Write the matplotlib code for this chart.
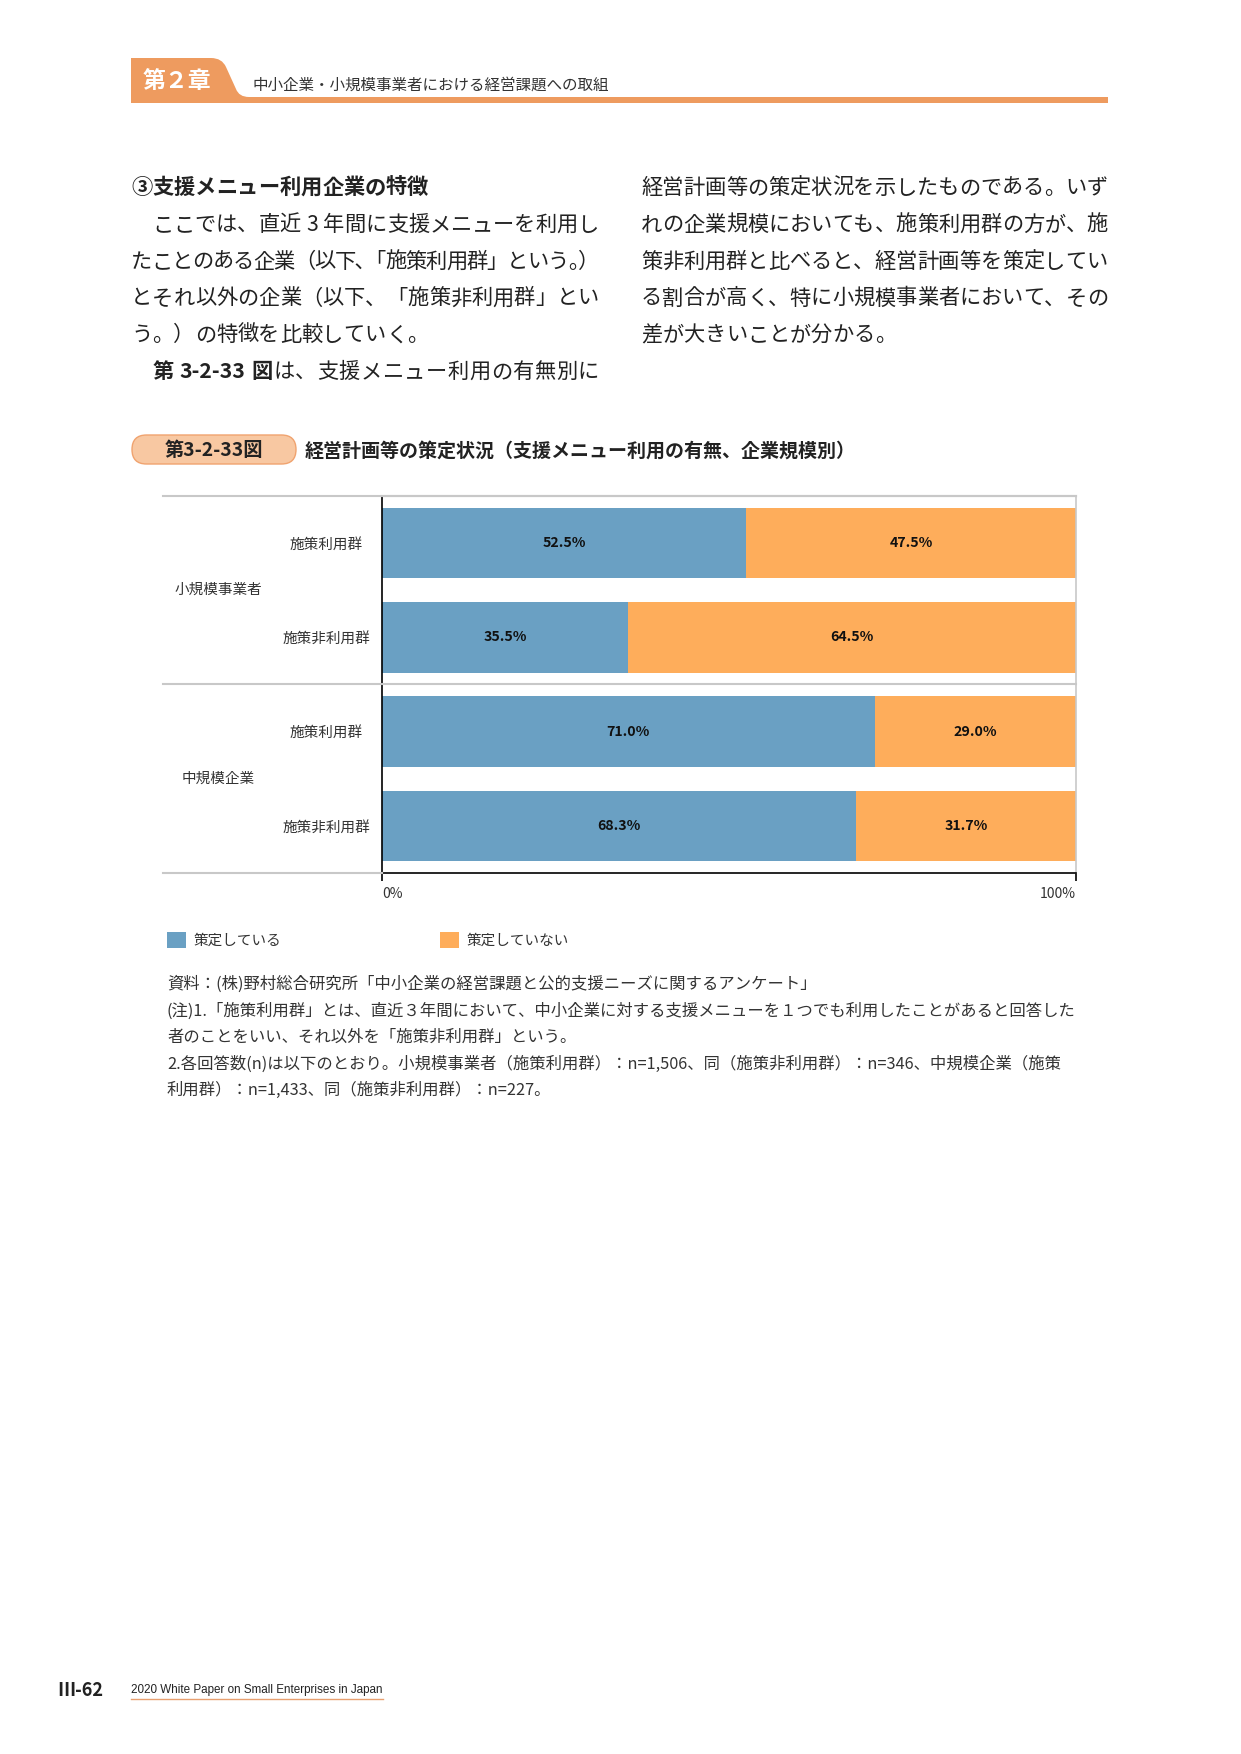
import numpy as np
import matplotlib
matplotlib.use('Agg')
import matplotlib.pyplot as plt
import matplotlib.transforms as mtransforms
from matplotlib.patches import FancyBboxPatch, PathPatch
from matplotlib.path import Path
from matplotlib.font_manager import FontProperties, findfont
from matplotlib.ft2font import FT2Font
from matplotlib.lines import Line2D

plt.rcParams['font.family'] = ['Noto Sans CJK JP', 'DejaVu Sans']

# ---------------- data ----------------
size_groups = ['小規模事業者', '中規模企業']
row_labels = ['施策利用群', '施策非利用群', '施策利用群', '施策非利用群']
planned = [52.5, 35.5, 71.0, 68.3]
not_planned = [47.5, 64.5, 29.0, 31.7]
series_names = ['策定している', '策定していない']
x_ticks = [0, 100]
x_tick_labels = ['0%', '100%']

BLUE = '#6AA0C3'
ORANGE = '#FEAD5B'
HEAD_ORANGE = '#EE9B5F'
TXT = '#222222'

W, H = 1241, 1754
fig = plt.figure(figsize=(W / 100, H / 100), dpi=100)
T = mtransforms.Affine2D().scale(1 / W, -1 / H).translate(0, 1) + fig.transFigure

# ---------------- text layout helpers ----------------
_fonts = {}


def advance(ch, bold, fs):
    em = fs * 100 / 72
    try:
        if bold not in _fonts:
            p = findfont(FontProperties(family='Noto Sans CJK JP',
                                        weight='bold' if bold else 'normal'))
            _fonts[bold] = FT2Font(p)
        f = _fonts[bold]
        f.set_size(fs, 100)
        g = f.load_char(ord(ch))
        return g.linearHoriAdvance / 65536.0
    except Exception:
        return em if ord(ch) >= 0x2000 else 0.55 * em


CLOSE = '、。」）'
OPEN = '「（'
HALF = {'、': '､', '。': '｡'}


def is_cjk(ch):
    return ord(ch) >= 0x2000


def build_units(segs, fs, compress):
    chars = []
    for text, bold in segs:
        for ch in text:
            chars.append([ch, bold])
    if compress:
        for i in range(len(chars) - 1):
            if chars[i][0] in HALF and chars[i + 1][0] in CLOSE + OPEN:
                chars[i][0] = HALF[chars[i][0]]
    units = []
    for ch, bold in chars:
        a = advance(ch, bold, fs)
        if (not is_cjk(ch)) and units and units[-1]['kind'] == 'ascii':
            units[-1]['text'] += ch
            units[-1]['adv'] += a
        else:
            units.append({'text': ch, 'adv': a, 'bold': bold,
                          'kind': 'cjk' if is_cjk(ch) else 'ascii'})
    em = fs * 100 / 72
    gaps = []
    for i in range(len(units) - 1):
        a, b = units[i], units[i + 1]
        g = 0.0
        if a['kind'] != b['kind'] and a['text'][-1] not in CLOSE + OPEN + '　' \
                and b['text'][0] not in CLOSE + OPEN + '　':
            g = 0.25 * em
        gaps.append(g)
    total = sum(u['adv'] for u in units) + sum(gaps)
    return units, gaps, total


def draw_line(x0, yc, width, segs, fs, justify, color=TXT):
    em = fs * 100 / 72
    units, gaps, total = build_units(segs, fs, False)
    if total > width + 0.5:
        units, gaps, total = build_units(segs, fs, True)
    extra = 0.0
    if justify and len(units) > 1:
        extra = (width - total) / (len(units) - 1)
    baseline = yc + 0.38 * em
    pen = x0
    for i, u in enumerate(units):
        if u['text'] != '　':
            fig.text(pen, baseline, u['text'], transform=T, ha='left', va='baseline',
                     fontsize=fs, color=color, weight='bold' if u['bold'] else 'normal')
        if i < len(gaps):
            pen += u['adv'] + gaps[i] + extra


# ---------------- page header ----------------
verts = [(131, 103), (131, 58), (211, 58), (222, 58), (226, 67), (236, 89),
         (239, 97), (249, 97), (1108, 97), (1108, 103), (131, 103)]
codes = [Path.MOVETO, Path.LINETO, Path.LINETO, Path.CURVE3, Path.CURVE3, Path.LINETO,
         Path.CURVE3, Path.CURVE3, Path.LINETO, Path.LINETO, Path.CLOSEPOLY]
fig.add_artist(PathPatch(Path(verts, codes), facecolor=HEAD_ORANGE, edgecolor='none',
                         transform=T))
fig.text(177, 81, '第２章', transform=T, ha='center', va='center', fontsize=16.5,
         weight='bold', color='white')
fig.text(252, 85, '中小企業・小規模事業者における経営課題への取組', transform=T,
         ha='left', va='center', fontsize=11.2, color='#333333')

# ---------------- body text ----------------
FS = 15.3
ly = [186 + 36.8 * i for i in range(6)]
draw_line(131, ly[0], 468, [('③支援メニュー利用企業の特徴', True)], FS, False)
draw_line(131, ly[1], 468, [('　ここでは、直近3年間に支援メニューを利用し', False)], FS, True)
draw_line(131, ly[2], 468, [('たことのある企業（以下、「施策利用群」という。）', False)], FS, True)
draw_line(131, ly[3], 468, [('とそれ以外の企業（以下、「施策非利用群」とい', False)], FS, True)
draw_line(131, ly[4], 468, [('う。）の特徴を比較していく。', False)], FS, False)
draw_line(131, ly[5], 468, [('　', False), ('第3-2-33図', True),
                            ('は、支援メニュー利用の有無別に', False)], FS, True)

draw_line(641, ly[0], 467, [('経営計画等の策定状況を示したものである。いず', False)], FS, True)
draw_line(641, ly[1], 467, [('れの企業規模においても、施策利用群の方が、施', False)], FS, True)
draw_line(641, ly[2], 467, [('策非利用群と比べると、経営計画等を策定してい', False)], FS, True)
draw_line(641, ly[3], 467, [('る割合が高く、特に小規模事業者において、その', False)], FS, True)
draw_line(641, ly[4], 467, [('差が大きいことが分かる。', False)], FS, False)

# ---------------- figure title ----------------
fig.add_artist(FancyBboxPatch((132, 435), 164, 29,
                              boxstyle='round,pad=0,rounding_size=14.5',
                              facecolor='#F8C8A2', edgecolor='#F0A36F', linewidth=1,
                              transform=T))
fig.text(214, 450, '第3-2-33図', transform=T, ha='center', va='center',
         fontsize=13.8, weight='bold', color='#222222')
fig.text(305, 451, '経営計画等の策定状況（支援メニュー利用の有無、企業規模別）',
         transform=T, ha='left', va='center', fontsize=13.7, weight='bold',
         color='#222222')

# ---------------- chart ----------------
AX_L, AX_R, AX_T, AX_B = 382, 1076, 496, 873
ax = fig.add_axes([AX_L / W, 1 - AX_B / H, (AX_R - AX_L) / W, (AX_B - AX_T) / H])
y = np.arange(len(planned))
b1 = ax.barh(y, planned, height=0.75, color=BLUE, label=series_names[0])
b2 = ax.barh(y, not_planned, left=planned, height=0.75, color=ORANGE,
             label=series_names[1])
for i in range(len(planned)):
    ax.text(planned[i] / 2, y[i], f'{planned[i]:.1f}%', ha='center', va='center',
            fontsize=10.2, weight='bold', color='#111111')
    ax.text(planned[i] + not_planned[i] / 2, y[i], f'{not_planned[i]:.1f}%',
            ha='center', va='center', fontsize=10.2, weight='bold', color='#111111')

ax.set_xlim(0, 100)
ax.set_ylim(len(planned) - 0.5, -0.5)
ax.spines['left'].set_color('black')
ax.spines['left'].set_linewidth(1.2)
ax.spines['bottom'].set_color('black')
ax.spines['bottom'].set_linewidth(1.2)
ax.spines['top'].set_color('#C8C8C8')
ax.spines['top'].set_linewidth(1.5)
ax.spines['right'].set_color('#C8C8C8')
ax.spines['right'].set_linewidth(1.2)

ax.set_xticks(x_ticks, x_tick_labels)
ax.tick_params(axis='x', direction='out', length=6, width=1.2, colors='black',
               labelsize=10, labelcolor='#333333', pad=4)
tl = ax.get_xticklabels()
tl[0].set_ha('left')
tl[-1].set_ha('right')
ax.set_yticks(y, row_labels)
ax.tick_params(axis='y', length=0, pad=40, labelsize=10.5, labelcolor='#333333')
for lab in ax.get_yticklabels():
    lab.set_ha('center')

# horizontal group rules extending left of the axes
bt = mtransforms.blended_transform_factory(T, ax.transData)
for yy, x_end in [(-0.5, AX_R), (1.5, AX_R), (len(planned) - 0.5, AX_L)]:
    fig.add_artist(Line2D([163, x_end], [yy, yy], transform=bt, color='#C8C8C8',
                          linewidth=1.5, zorder=0.5))

for gi, g in enumerate(size_groups):
    fig.text(218, gi * 2 + 0.5, g, transform=bt, ha='center', va='center',
             fontsize=10.5, color='#333333')

# legend
fig.legend(handles=[b1, b2], labels=series_names, loc='center left',
           bbox_to_anchor=(167 / W, 1 - 940 / H), bbox_transform=fig.transFigure,
           ncol=2, frameon=False, handlelength=1.3, handleheight=1.25,
           handletextpad=0.5, columnspacing=10.9, borderpad=0, borderaxespad=0,
           fontsize=10.5, labelcolor='#333333')

# ---------------- notes ----------------
notes = [
    (984, '資料：(株)野村総合研究所「中小企業の経営課題と公的支援ニーズに関するアンケート」'),
    (1011, '(注)1.「施策利用群」とは、直近３年間において、中小企業に対する支援メニューを１つでも利用したことがあると回答した'),
    (1037, '者のことをいい、それ以外を「施策非利用群」という。'),
    (1064, '2.各回答数(n)は以下のとおり。小規模事業者（施策利用群）：n=1,506、同（施策非利用群）：n=346、中規模企業（施策'),
    (1090, '利用群）：n=1,433、同（施策非利用群）：n=227。'),
]
for yy, s in notes:
    fig.text(167, yy, s, transform=T, ha='left', va='center', fontsize=11.75,
             color='#333333')

# ---------------- footer ----------------
fig.text(57, 1691, 'Ⅲ-62', transform=T, ha='left', va='center', fontsize=13,
         weight='bold', color='#222222')
fig.text(131, 1690, '2020 White Paper on Small Enterprises in Japan', transform=T,
         ha='left', va='center', fontsize=8.4, color='#222222',
         family=['Liberation Sans', 'DejaVu Sans'])
fig.add_artist(Line2D([131, 383], [1699, 1699], transform=T, color='#E8A070',
                      linewidth=1))

fig.savefig('out.png', dpi=100)
